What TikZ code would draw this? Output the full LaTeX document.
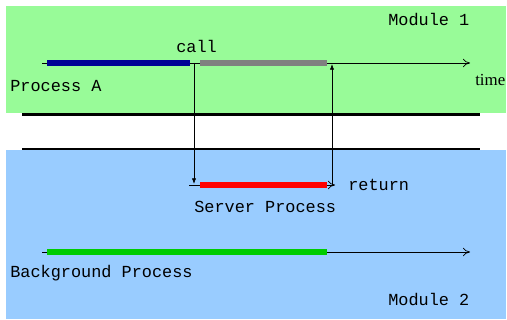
\documentclass[tikz,border=0pt]{standalone}
\usepackage{fontspec}
\setmonofont{Liberation Mono}
\newfontfamily\timefont{Liberation Serif}
\usetikzlibrary{arrows.meta}
\definecolor{modgreen}{RGB}{152,251,152}
\definecolor{modblue}{RGB}{153,204,255}
\definecolor{barblue}{RGB}{0,0,150}
\definecolor{bargray}{RGB}{128,128,128}
\definecolor{bargreen}{RGB}{0,204,0}

\begin{document}
\begin{tikzpicture}[x=0.025cm,y=-0.025cm,font=\ttfamily\fontsize{12}{14}\selectfont,
		timeline/.style={draw,line width=0.5pt,-{To[length=5pt,width=6pt]}},
		bar/.style={line width=4.3pt},
		msg/.style={draw,line width=0.5pt,-{Latex[length=4pt,width=3pt]}},
		sep/.style={line width=2pt}]
	\useasboundingbox (0,0) rectangle (507,320);
	% the two modules
	\fill[modgreen] (6,6) rectangle (506,113);
	\fill[modblue] (6,150) rectangle (506,319);
	\draw[sep] (22,114.5) -- (480,114.5);
	\draw[sep] (22,149) -- (480,149);

	% time axes
	\coordinate (a0) at (42,63);  \coordinate (a1) at (470,63);
	\coordinate (s0) at (189,185); \coordinate (s1) at (335,185);
	\coordinate (b0) at (42,252); \coordinate (b1) at (470,252);
	\draw[timeline] (a0) -- (a1);
	\draw[timeline] (s0) -- (s1);
	\draw[timeline] (b0) -- (b1);

	% activity bars
	\draw[bar,barblue] (47,63) -- (190,63);
	\draw[bar,bargray] (200,63) -- (327,63);
	\draw[bar,red] (200,185) -- (327,185);
	\draw[bar,bargreen] (47,252) -- (327,252);

	% call and return
	\coordinate (callA) at (194,63);  \coordinate (callS) at (194,184);
	\coordinate (retS) at (332,185);  \coordinate (retA) at (332,64);
	\draw[msg] (callA) -- (callS);
	\draw[msg] (retS) -- (retA);

	% labels
	\node[anchor=base west,inner sep=0] (mod1) at (388,26) {Module 1};
	\node[anchor=base west,inner sep=0] (call) at (176,53) {call};
	\node[anchor=base west,inner sep=0] (procA) at (10,92) {Process A};
	\node[anchor=base west,inner sep=0,font=\timefont\fontsize{12}{14}\selectfont] (time) at (475,86) {time};
	\node[anchor=base west,inner sep=0] (ret) at (348,191) {return};
	\node[anchor=base west,inner sep=0] (server) at (194,213) {Server Process};
	\node[anchor=base west,inner sep=0] (backg) at (10,278) {Background Process};
	\node[anchor=base west,inner sep=0] (mod2) at (388,306) {Module 2};
\end{tikzpicture}
\end{document}
